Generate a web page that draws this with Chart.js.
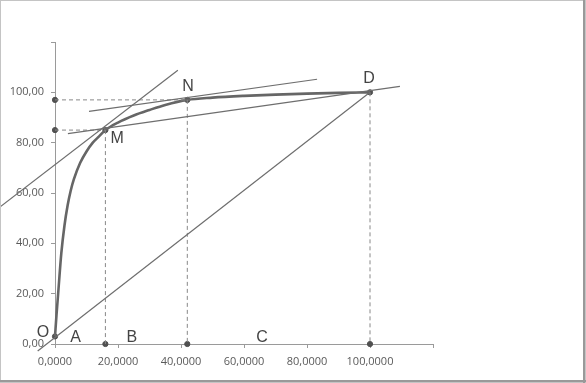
<!DOCTYPE html>
<html>
<head>
<meta charset="utf-8">
<script src="https://cdn.jsdelivr.net/npm/chart.js@4"></script>
<style>
  html, body { margin: 0; padding: 0; background: #fff; }
  #wrap { width: 586px; height: 383px; position: relative; }
</style>
</head>
<body>
<div id="wrap"><canvas id="chart"></canvas></div>
<script>
// curve
const curveX = [0, 0.5, 1, 2, 3, 4, 5, 6, 8, 10, 12, 14, 16, 20, 25, 30, 35, 42, 50, 60, 70, 80, 90, 100];
const curveY = [3, 12, 20, 36, 47, 55, 61, 65.5, 72, 76.5, 80, 82.5, 85, 88, 90.8, 93, 95, 97, 97.9, 98.6, 99.1, 99.5, 99.8, 100];

// straight lines: [x1, y1, x2, y2]
const lineOD = [-5.5, -2.8, 100, 100];
const tangentM = [-17.5, 54.4, 39, 108.8];
const tangentN = [10.8, 92.4, 83.2, 105.2];
const secantMD = [4.1, 83.6, 109.5, 102.4];

// dashed guides: [x1, y1, x2, y2]
const guides = [
  [0, 97, 42, 97],
  [0, 85, 16, 85],
  [16, 85, 16, 0],
  [42, 97, 42, 0],
  [100, 100, 100, 0]
];

// marked points
const dotX = [0, 0, 0, 16, 42, 100, 16, 42, 100];
const dotY = [3, 97, 85, 0, 0, 0, 85, 97, 100];

// letters
const labelText = ["O", "A", "B", "C", "M", "N", "D"];
const labelX = [-3.8, 6.5, 24.4, 65.7, 19.7, 42.2, 99.7];
const labelY = [4.6, 2.6, 2.6, 2.6, 81.6, 102.4, 105.6];

const xTicks = [0, 20, 40, 60, 80, 100];
const yTicks = [0, 20, 40, 60, 80, 100];

function seg(s) {
  return [{ x: s[0], y: s[1] }, { x: s[2], y: s[3] }];
}

const thin = { borderColor: "#6e6e6e", borderWidth: 1.2, pointRadius: 0, showLine: true, clip: false };

const datasets = [
  Object.assign({ data: seg(lineOD) }, thin),
  Object.assign({ data: seg(tangentM) }, thin),
  Object.assign({ data: seg(tangentN) }, thin),
  Object.assign({ data: seg(secantMD) }, thin)
];
guides.forEach(g => {
  datasets.push({ data: seg(g), borderColor: "#888", borderWidth: 1, borderDash: [4, 3], pointRadius: 0, showLine: true, clip: false });
});
datasets.push({
  data: curveX.map((x, i) => ({ x: x, y: curveY[i] })),
  borderColor: "#666", borderWidth: 2.6, pointRadius: 0, showLine: true,
  cubicInterpolationMode: "monotone", clip: false
});
datasets.push({
  data: dotX.map((x, i) => ({ x: x, y: dotY[i] })),
  backgroundColor: "#505050", borderColor: "#505050", pointRadius: 2.6, showLine: false, clip: false
});

const letters = {
  id: "letters",
  afterDatasetsDraw(chart) {
    const ctx = chart.ctx;
    const xs = chart.scales.x, ys = chart.scales.y;
    ctx.save();
    ctx.font = "16px 'Liberation Sans', Arial, sans-serif";
    ctx.fillStyle = "#444";
    ctx.textAlign = "center";
    ctx.textBaseline = "middle";
    labelText.forEach((t, i) => {
      ctx.fillText(t, xs.getPixelForValue(labelX[i]), ys.getPixelForValue(labelY[i]));
    });
    ctx.restore();
  },
  afterDraw(chart) {
    // picture frame
    const ctx = chart.ctx;
    ctx.save();
    ctx.strokeStyle = "#c4c4c4";
    ctx.lineWidth = 1;
    ctx.strokeRect(0.5, 0.5, chart.width - 1, chart.height - 1);
    ctx.strokeStyle = "#999";
    ctx.lineWidth = 2;
    ctx.beginPath();
    ctx.moveTo(0, chart.height - 2);
    ctx.lineTo(chart.width, chart.height - 2);
    ctx.moveTo(chart.width - 2, 0);
    ctx.lineTo(chart.width - 2, chart.height);
    ctx.stroke();
    ctx.restore();
  }
};

new Chart(document.getElementById("chart"), {
  type: "scatter",
  data: { datasets: datasets },
  plugins: [letters],
  options: {
    responsive: true,
    maintainAspectRatio: false,
    animation: false,
    layout: { padding: { top: 42, right: 153, left: 0, bottom: 0 } },
    plugins: { legend: { display: false }, tooltip: { enabled: false } },
    scales: {
      x: {
        type: "linear", min: 0, max: 120,
        afterFit(s) { s.height = 39; },
        afterBuildTicks(s) { s.ticks = xTicks.concat([120]).map(v => ({ value: v })); },
        ticks: {
          color: "#5a5a5a", padding: 7, maxRotation: 0,
          font: { family: "'Open Sans', sans-serif", size: 11 },
          callback: v => (xTicks.includes(v) ? v.toFixed(4).replace(".", ",") : "")
        },
        grid: { drawOnChartArea: false, tickLength: 4, color: "#9a9a9a" },
        border: { color: "#9a9a9a" }
      },
      y: {
        type: "linear", min: 0, max: 120,
        afterFit(s) { s.width = 55; },
        afterBuildTicks(s) { s.ticks = yTicks.concat([120]).map(v => ({ value: v })); },
        ticks: {
          color: "#5a5a5a", padding: 7,
          font: { family: "'Open Sans', sans-serif", size: 11 },
          callback: v => (yTicks.includes(v) ? v.toFixed(2).replace(".", ",") : "")
        },
        grid: { drawOnChartArea: false, tickLength: 4, color: "#9a9a9a" },
        border: { color: "#9a9a9a" }
      }
    }
  }
});
</script>
</body>
</html>
